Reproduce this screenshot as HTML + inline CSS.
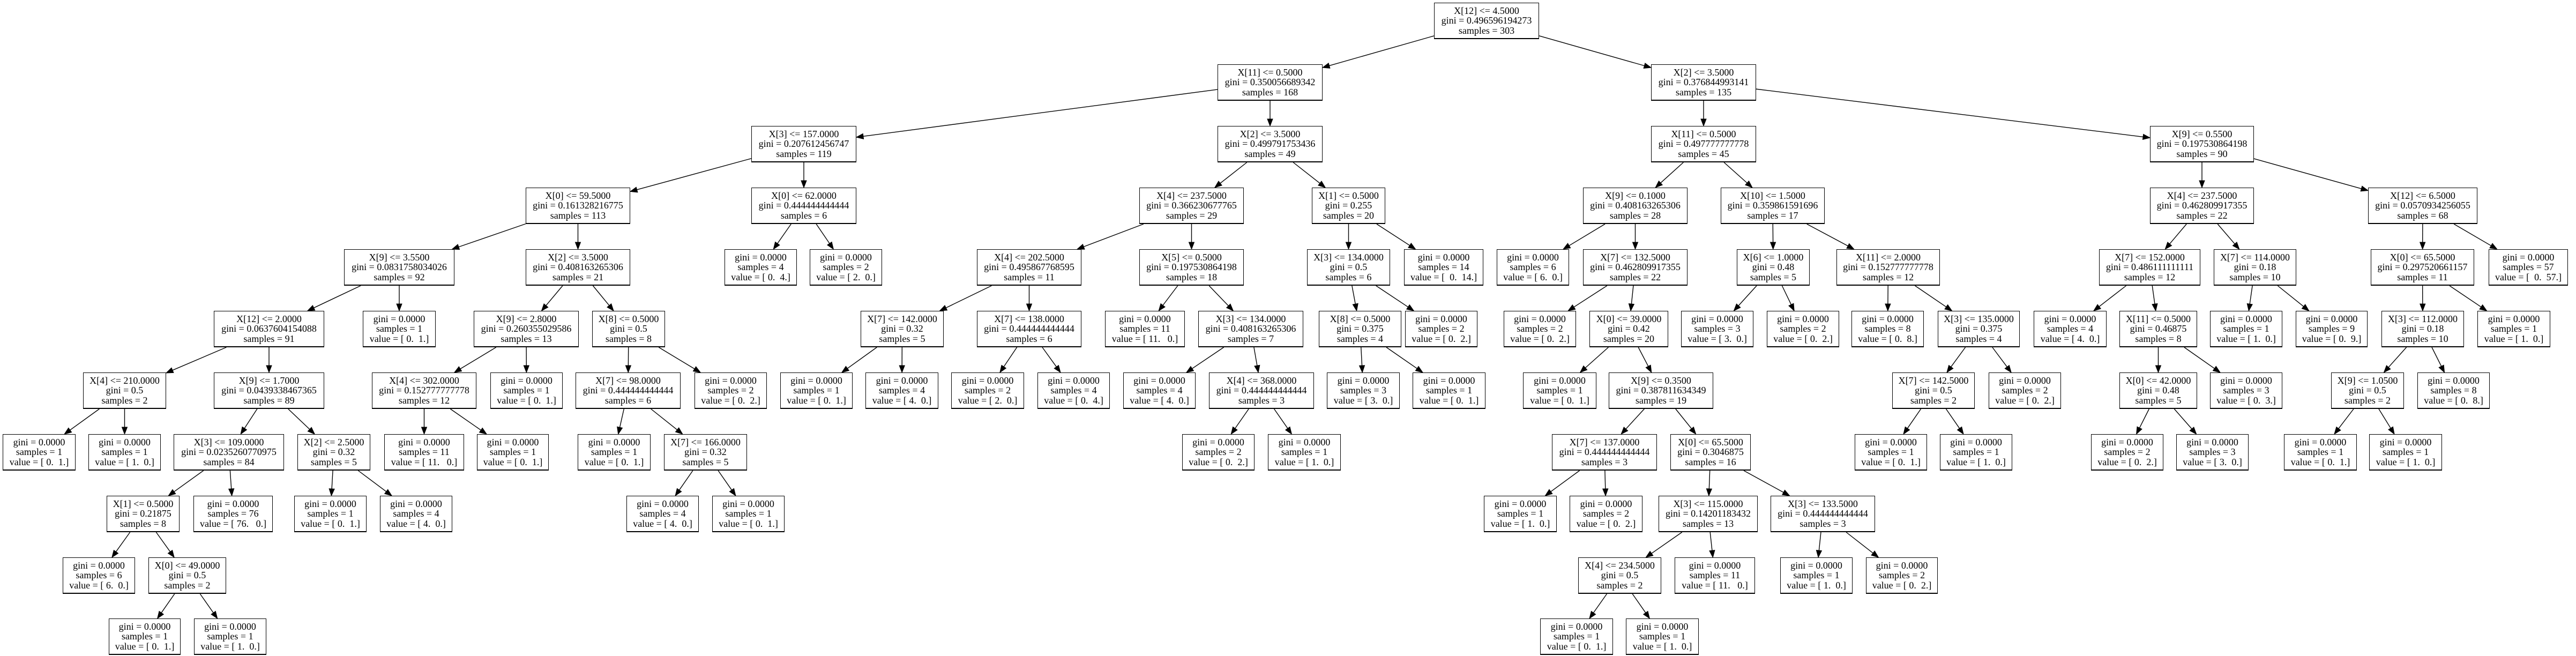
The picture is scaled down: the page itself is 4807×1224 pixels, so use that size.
<!DOCTYPE html>
<html><head><meta charset="utf-8">
<style>
html,body{margin:0;padding:0;background:#fff;}
#c{position:relative;width:4807px;height:1224px;overflow:hidden;background:#fff;}
.n{position:absolute;height:68px;box-sizing:border-box;border:1.3px solid #000;border-bottom-width:2px;background:#fff;
display:flex;flex-direction:column;justify-content:center;align-items:center;text-align:center;
font-family:"Liberation Serif","Times New Roman",serif;font-size:18px;line-height:18.6px;color:#000;white-space:pre;z-index:2;}
svg{position:absolute;left:0;top:0;z-index:1;}
</style></head><body><div id="c">
<svg id="s" width="4807" height="1224"></svg>
<div class="n" id="n0" style="left:2676px;top:5px;width:196px">X[12] &lt;= 4.5000<br>gini = 0.496596194273<br>samples = 303</div>
<div class="n" id="n1" style="left:2272px;top:120px;width:196px">X[11] &lt;= 0.5000<br>gini = 0.350056689342<br>samples = 168</div>
<div class="n" id="n2" style="left:3081px;top:120px;width:196px">X[2] &lt;= 3.5000<br>gini = 0.376844993141<br>samples = 135</div>
<div class="n" id="n3" style="left:1402px;top:235px;width:196px">X[3] &lt;= 157.0000<br>gini = 0.207612456747<br>samples = 119</div>
<div class="n" id="n4" style="left:2272px;top:235px;width:196px">X[2] &lt;= 3.5000<br>gini = 0.499791753436<br>samples = 49</div>
<div class="n" id="n31" style="left:3081px;top:235px;width:196px">X[11] &lt;= 0.5000<br>gini = 0.497777777778<br>samples = 45</div>
<div class="n" id="n32" style="left:4012px;top:235px;width:194px">X[9] &lt;= 0.5500<br>gini = 0.197530864198<br>samples = 90</div>
<div class="n" id="n5" style="left:981px;top:350px;width:195px">X[0] &lt;= 59.5000<br>gini = 0.161328216775<br>samples = 113</div>
<div class="n" id="n6" style="left:1402px;top:350px;width:196px">X[0] &lt;= 62.0000<br>gini = 0.444444444444<br>samples = 6</div>
<div class="n" id="n21" style="left:2126px;top:350px;width:195px">X[4] &lt;= 237.5000<br>gini = 0.366230677765<br>samples = 29</div>
<div class="n" id="n22" style="left:2448px;top:350px;width:137px">X[1] &lt;= 0.5000<br>gini = 0.255<br>samples = 20</div>
<div class="n" id="n33" style="left:2954px;top:350px;width:195px">X[9] &lt;= 0.1000<br>gini = 0.408163265306<br>samples = 28</div>
<div class="n" id="n34" style="left:3211px;top:350px;width:194px">X[10] &lt;= 1.5000<br>gini = 0.359861591696<br>samples = 17</div>
<div class="n" id="n47" style="left:4012px;top:350px;width:194px">X[4] &lt;= 237.5000<br>gini = 0.462809917355<br>samples = 22</div>
<div class="n" id="n48" style="left:4419px;top:350px;width:204px">X[12] &lt;= 6.5000<br>gini = 0.0570934256055<br>samples = 68</div>
<div class="n" id="n7" style="left:642px;top:465px;width:206px">X[9] &lt;= 3.5500<br>gini = 0.0831758034026<br>samples = 92</div>
<div class="n" id="n8" style="left:981px;top:465px;width:195px">X[2] &lt;= 3.5000<br>gini = 0.408163265306<br>samples = 21</div>
<div class="n" id="l6a" style="left:1352px;top:465px;width:135px">gini = 0.0000<br>samples = 4<br>value = [ 0.  4.]</div>
<div class="n" id="l6b" style="left:1511px;top:465px;width:135px">gini = 0.0000<br>samples = 2<br>value = [ 2.  0.]</div>
<div class="n" id="n23" style="left:1823px;top:465px;width:195px">X[4] &lt;= 202.5000<br>gini = 0.495867768595<br>samples = 11</div>
<div class="n" id="n24" style="left:2126px;top:465px;width:195px">X[5] &lt;= 0.5000<br>gini = 0.197530864198<br>samples = 18</div>
<div class="n" id="n25" style="left:2439px;top:465px;width:155px">X[3] &lt;= 134.0000<br>gini = 0.5<br>samples = 6</div>
<div class="n" id="l22b" style="left:2620px;top:465px;width:148px">gini = 0.0000<br>samples = 14<br>value = [  0.  14.]</div>
<div class="n" id="l33a" style="left:2793px;top:465px;width:135px">gini = 0.0000<br>samples = 6<br>value = [ 6.  0.]</div>
<div class="n" id="n35" style="left:2954px;top:465px;width:195px">X[7] &lt;= 132.5000<br>gini = 0.462809917355<br>samples = 22</div>
<div class="n" id="n36" style="left:3241px;top:465px;width:136px">X[6] &lt;= 1.0000<br>gini = 0.48<br>samples = 5</div>
<div class="n" id="n37" style="left:3427px;top:465px;width:193px">X[11] &lt;= 2.0000<br>gini = 0.152777777778<br>samples = 12</div>
<div class="n" id="n49" style="left:3917px;top:465px;width:189px">X[7] &lt;= 152.0000<br>gini = 0.486111111111<br>samples = 12</div>
<div class="n" id="n50" style="left:4131px;top:465px;width:154px">X[7] &lt;= 114.0000<br>gini = 0.18<br>samples = 10</div>
<div class="n" id="n51" style="left:4424px;top:465px;width:193px">X[0] &lt;= 65.5000<br>gini = 0.297520661157<br>samples = 11</div>
<div class="n" id="l48b" style="left:4644px;top:465px;width:148px">gini = 0.0000<br>samples = 57<br>value = [  0.  57.]</div>
<div class="n" id="n9" style="left:399px;top:580px;width:206px">X[12] &lt;= 2.0000<br>gini = 0.0637604154088<br>samples = 91</div>
<div class="n" id="l7b" style="left:677px;top:580px;width:136px">gini = 0.0000<br>samples = 1<br>value = [ 0.  1.]</div>
<div class="n" id="n10" style="left:884px;top:580px;width:196px">X[9] &lt;= 2.8000<br>gini = 0.260355029586<br>samples = 13</div>
<div class="n" id="n11" style="left:1105px;top:580px;width:136px">X[8] &lt;= 0.5000<br>gini = 0.5<br>samples = 8</div>
<div class="n" id="n26" style="left:1606px;top:580px;width:155px">X[7] &lt;= 142.0000<br>gini = 0.32<br>samples = 5</div>
<div class="n" id="n27" style="left:1823px;top:580px;width:195px">X[7] &lt;= 138.0000<br>gini = 0.444444444444<br>samples = 6</div>
<div class="n" id="l24a" style="left:2062px;top:580px;width:149px">gini = 0.0000<br>samples = 11<br>value = [ 11.   0.]</div>
<div class="n" id="n28" style="left:2236px;top:580px;width:196px">X[3] &lt;= 134.0000<br>gini = 0.408163265306<br>samples = 7</div>
<div class="n" id="n29" style="left:2461px;top:580px;width:154px">X[8] &lt;= 0.5000<br>gini = 0.375<br>samples = 4</div>
<div class="n" id="l25b" style="left:2622px;top:580px;width:135px">gini = 0.0000<br>samples = 2<br>value = [ 0.  2.]</div>
<div class="n" id="l35a" style="left:2806px;top:580px;width:135px">gini = 0.0000<br>samples = 2<br>value = [ 0.  2.]</div>
<div class="n" id="n38" style="left:2966px;top:580px;width:147px">X[0] &lt;= 39.0000<br>gini = 0.42<br>samples = 20</div>
<div class="n" id="l36a" style="left:3137px;top:580px;width:135px">gini = 0.0000<br>samples = 3<br>value = [ 3.  0.]</div>
<div class="n" id="l36b" style="left:3297px;top:580px;width:135px">gini = 0.0000<br>samples = 2<br>value = [ 0.  2.]</div>
<div class="n" id="l37a" style="left:3455px;top:580px;width:135px">gini = 0.0000<br>samples = 8<br>value = [ 0.  8.]</div>
<div class="n" id="n39" style="left:3616px;top:580px;width:153px">X[3] &lt;= 135.0000<br>gini = 0.375<br>samples = 4</div>
<div class="n" id="l49a" style="left:3795px;top:580px;width:136px">gini = 0.0000<br>samples = 4<br>value = [ 4.  0.]</div>
<div class="n" id="n52" style="left:3955px;top:580px;width:145px">X[11] &lt;= 0.5000<br>gini = 0.46875<br>samples = 8</div>
<div class="n" id="l50a" style="left:4124px;top:580px;width:135px">gini = 0.0000<br>samples = 1<br>value = [ 1.  0.]</div>
<div class="n" id="l50b" style="left:4284px;top:580px;width:134px">gini = 0.0000<br>samples = 9<br>value = [ 0.  9.]</div>
<div class="n" id="n53" style="left:4444px;top:580px;width:154px">X[3] &lt;= 112.0000<br>gini = 0.18<br>samples = 10</div>
<div class="n" id="l51b" style="left:4623px;top:580px;width:136px">gini = 0.0000<br>samples = 1<br>value = [ 1.  0.]</div>
<div class="n" id="n12" style="left:155px;top:695px;width:155px">X[4] &lt;= 210.0000<br>gini = 0.5<br>samples = 2</div>
<div class="n" id="n13" style="left:399px;top:695px;width:206px">X[9] &lt;= 1.7000<br>gini = 0.0439338467365<br>samples = 89</div>
<div class="n" id="n14" style="left:694px;top:695px;width:195px">X[4] &lt;= 302.0000<br>gini = 0.152777777778<br>samples = 12</div>
<div class="n" id="l10b" style="left:915px;top:695px;width:135px">gini = 0.0000<br>samples = 1<br>value = [ 0.  1.]</div>
<div class="n" id="n15" style="left:1074px;top:695px;width:196px">X[7] &lt;= 98.0000<br>gini = 0.444444444444<br>samples = 6</div>
<div class="n" id="l11b" style="left:1296px;top:695px;width:135px">gini = 0.0000<br>samples = 2<br>value = [ 0.  2.]</div>
<div class="n" id="l26a" style="left:1456px;top:695px;width:135px">gini = 0.0000<br>samples = 1<br>value = [ 0.  1.]</div>
<div class="n" id="l26b" style="left:1615px;top:695px;width:136px">gini = 0.0000<br>samples = 4<br>value = [ 4.  0.]</div>
<div class="n" id="l27a" style="left:1775px;top:695px;width:136px">gini = 0.0000<br>samples = 2<br>value = [ 2.  0.]</div>
<div class="n" id="l27b" style="left:1936px;top:695px;width:135px">gini = 0.0000<br>samples = 4<br>value = [ 0.  4.]</div>
<div class="n" id="l28a" style="left:2096px;top:695px;width:135px">gini = 0.0000<br>samples = 4<br>value = [ 4.  0.]</div>
<div class="n" id="n30" style="left:2256px;top:695px;width:196px">X[4] &lt;= 368.0000<br>gini = 0.444444444444<br>samples = 3</div>
<div class="n" id="l29a" style="left:2476px;top:695px;width:136px">gini = 0.0000<br>samples = 3<br>value = [ 3.  0.]</div>
<div class="n" id="l29b" style="left:2636px;top:695px;width:136px">gini = 0.0000<br>samples = 1<br>value = [ 0.  1.]</div>
<div class="n" id="l38a" style="left:2842px;top:695px;width:137px">gini = 0.0000<br>samples = 1<br>value = [ 0.  1.]</div>
<div class="n" id="n40" style="left:3002px;top:695px;width:195px">X[9] &lt;= 0.3500<br>gini = 0.387811634349<br>samples = 19</div>
<div class="n" id="n41" style="left:3531px;top:695px;width:154px">X[7] &lt;= 142.5000<br>gini = 0.5<br>samples = 2</div>
<div class="n" id="l39b" style="left:3711px;top:695px;width:135px">gini = 0.0000<br>samples = 2<br>value = [ 0.  2.]</div>
<div class="n" id="n54" style="left:3955px;top:695px;width:145px">X[0] &lt;= 42.0000<br>gini = 0.48<br>samples = 5</div>
<div class="n" id="l52b" style="left:4124px;top:695px;width:135px">gini = 0.0000<br>samples = 3<br>value = [ 0.  3.]</div>
<div class="n" id="n55" style="left:4350px;top:695px;width:136px">X[9] &lt;= 1.0500<br>gini = 0.5<br>samples = 2</div>
<div class="n" id="l53b" style="left:4511px;top:695px;width:135px">gini = 0.0000<br>samples = 8<br>value = [ 0.  8.]</div>
<div class="n" id="l12a" style="left:5px;top:810px;width:136px">gini = 0.0000<br>samples = 1<br>value = [ 0.  1.]</div>
<div class="n" id="l12b" style="left:165px;top:810px;width:135px">gini = 0.0000<br>samples = 1<br>value = [ 1.  0.]</div>
<div class="n" id="n16" style="left:324px;top:810px;width:206px">X[3] &lt;= 109.0000<br>gini = 0.0235260770975<br>samples = 84</div>
<div class="n" id="n17" style="left:555px;top:810px;width:136px">X[2] &lt;= 2.5000<br>gini = 0.32<br>samples = 5</div>
<div class="n" id="l14a" style="left:717px;top:810px;width:149px">gini = 0.0000<br>samples = 11<br>value = [ 11.   0.]</div>
<div class="n" id="l14b" style="left:890px;top:810px;width:134px">gini = 0.0000<br>samples = 1<br>value = [ 0.  1.]</div>
<div class="n" id="l15a" style="left:1078px;top:810px;width:136px">gini = 0.0000<br>samples = 1<br>value = [ 0.  1.]</div>
<div class="n" id="n18" style="left:1239px;top:810px;width:155px">X[7] &lt;= 166.0000<br>gini = 0.32<br>samples = 5</div>
<div class="n" id="l30a" style="left:2206px;top:810px;width:135px">gini = 0.0000<br>samples = 2<br>value = [ 0.  2.]</div>
<div class="n" id="l30b" style="left:2366px;top:810px;width:136px">gini = 0.0000<br>samples = 1<br>value = [ 1.  0.]</div>
<div class="n" id="n42" style="left:2896px;top:810px;width:196px">X[7] &lt;= 137.0000<br>gini = 0.444444444444<br>samples = 3</div>
<div class="n" id="n43" style="left:3117px;top:810px;width:150px">X[0] &lt;= 65.5000<br>gini = 0.3046875<br>samples = 16</div>
<div class="n" id="l41a" style="left:3461px;top:810px;width:135px">gini = 0.0000<br>samples = 1<br>value = [ 0.  1.]</div>
<div class="n" id="l41b" style="left:3620px;top:810px;width:135px">gini = 0.0000<br>samples = 1<br>value = [ 1.  0.]</div>
<div class="n" id="l54a" style="left:3902px;top:810px;width:135px">gini = 0.0000<br>samples = 2<br>value = [ 0.  2.]</div>
<div class="n" id="l54b" style="left:4061px;top:810px;width:135px">gini = 0.0000<br>samples = 3<br>value = [ 3.  0.]</div>
<div class="n" id="l55a" style="left:4262px;top:810px;width:136px">gini = 0.0000<br>samples = 1<br>value = [ 0.  1.]</div>
<div class="n" id="l55b" style="left:4421px;top:810px;width:136px">gini = 0.0000<br>samples = 1<br>value = [ 1.  0.]</div>
<div class="n" id="n19" style="left:199px;top:925px;width:136px">X[1] &lt;= 0.5000<br>gini = 0.21875<br>samples = 8</div>
<div class="n" id="l16b" style="left:361px;top:925px;width:148px">gini = 0.0000<br>samples = 76<br>value = [ 76.   0.]</div>
<div class="n" id="l17a" style="left:549px;top:925px;width:135px">gini = 0.0000<br>samples = 1<br>value = [ 0.  1.]</div>
<div class="n" id="l17b" style="left:709px;top:925px;width:135px">gini = 0.0000<br>samples = 4<br>value = [ 4.  0.]</div>
<div class="n" id="l18a" style="left:1169px;top:925px;width:135px">gini = 0.0000<br>samples = 4<br>value = [ 4.  0.]</div>
<div class="n" id="l18b" style="left:1329px;top:925px;width:135px">gini = 0.0000<br>samples = 1<br>value = [ 0.  1.]</div>
<div class="n" id="l42a" style="left:2769px;top:925px;width:136px">gini = 0.0000<br>samples = 1<br>value = [ 1.  0.]</div>
<div class="n" id="l42b" style="left:2929px;top:925px;width:136px">gini = 0.0000<br>samples = 2<br>value = [ 0.  2.]</div>
<div class="n" id="n44" style="left:3095px;top:925px;width:185px">X[3] &lt;= 115.0000<br>gini = 0.14201183432<br>samples = 13</div>
<div class="n" id="n45" style="left:3304px;top:925px;width:195px">X[3] &lt;= 133.5000<br>gini = 0.444444444444<br>samples = 3</div>
<div class="n" id="l19a" style="left:117px;top:1040px;width:135px">gini = 0.0000<br>samples = 6<br>value = [ 6.  0.]</div>
<div class="n" id="n20" style="left:277px;top:1040px;width:145px">X[0] &lt;= 49.0000<br>gini = 0.5<br>samples = 2</div>
<div class="n" id="n46" style="left:2945px;top:1040px;width:155px">X[4] &lt;= 234.5000<br>gini = 0.5<br>samples = 2</div>
<div class="n" id="l44b" style="left:3125px;top:1040px;width:150px">gini = 0.0000<br>samples = 11<br>value = [ 11.   0.]</div>
<div class="n" id="l45a" style="left:3322px;top:1040px;width:135px">gini = 0.0000<br>samples = 1<br>value = [ 1.  0.]</div>
<div class="n" id="l45b" style="left:3482px;top:1040px;width:134px">gini = 0.0000<br>samples = 2<br>value = [ 0.  2.]</div>
<div class="n" id="l20a" style="left:203px;top:1154px;width:134px">gini = 0.0000<br>samples = 1<br>value = [ 0.  1.]</div>
<div class="n" id="l20b" style="left:362px;top:1154px;width:135px">gini = 0.0000<br>samples = 1<br>value = [ 1.  0.]</div>
<div class="n" id="l46a" style="left:2874px;top:1154px;width:136px">gini = 0.0000<br>samples = 1<br>value = [ 0.  1.]</div>
<div class="n" id="l46b" style="left:3034px;top:1154px;width:136px">gini = 0.0000<br>samples = 1<br>value = [ 1.  0.]</div>
</div>
<script>
(function(){
var E=[["n0","n1"],["n0","n2"],["n1","n3"],["n1","n4"],["n3","n5"],["n3","n6"],["n5","n7"],["n5","n8"],["n6","l6a"],["n6","l6b"],
["n7","n9"],["n7","l7b"],["n8","n10"],["n8","n11"],["n9","n12"],["n9","n13"],["n10","n14"],["n10","l10b"],["n11","n15"],["n11","l11b"],
["n12","l12a"],["n12","l12b"],["n13","n16"],["n13","n17"],["n14","l14a"],["n14","l14b"],["n15","l15a"],["n15","n18"],["n16","n19"],["n16","l16b"],
["n17","l17a"],["n17","l17b"],["n18","l18a"],["n18","l18b"],["n19","l19a"],["n19","n20"],["n20","l20a"],["n20","l20b"],
["n4","n21"],["n4","n22"],["n21","n23"],["n21","n24"],["n22","n25"],["n22","l22b"],["n23","n26"],["n23","n27"],["n24","l24a"],["n24","n28"],
["n25","n29"],["n25","l25b"],["n26","l26a"],["n26","l26b"],["n27","l27a"],["n27","l27b"],["n28","l28a"],["n28","n30"],["n29","l29a"],["n29","l29b"],
["n30","l30a"],["n30","l30b"],["n2","n31"],["n2","n32"],["n31","n33"],["n31","n34"],["n33","l33a"],["n33","n35"],["n34","n36"],["n34","n37"],
["n35","l35a"],["n35","n38"],["n36","l36a"],["n36","l36b"],["n37","l37a"],["n37","n39"],["n38","l38a"],["n38","n40"],["n39","n41"],["n39","l39b"],
["n40","n42"],["n40","n43"],["n41","l41a"],["n41","l41b"],["n42","l42a"],["n42","l42b"],["n43","n44"],["n43","n45"],["n44","n46"],["n44","l44b"],
["n45","l45a"],["n45","l45b"],["n46","l46a"],["n46","l46b"],["n32","n47"],["n32","n48"],["n47","n49"],["n47","n50"],["n48","n51"],["n48","l48b"],
["n49","l49a"],["n49","n52"],["n50","l50a"],["n50","l50b"],["n51","n53"],["n51","l51b"],["n52","n54"],["n52","l52b"],["n53","n55"],["n53","l53b"],
["n54","l54a"],["n54","l54b"],["n55","l55a"],["n55","l55b"]];
var s=document.getElementById("s"),h="";
function b(id){var e=document.getElementById(id);return {cx:e.offsetLeft+e.offsetWidth/2,cy:e.offsetTop+e.offsetHeight/2,hw:e.offsetWidth/2,hh:e.offsetHeight/2};}
function t(B,dx,dy){var a=Math.abs(dx)>1e-6?B.hw/Math.abs(dx):1e9,c=Math.abs(dy)>1e-6?B.hh/Math.abs(dy):1e9;return Math.min(a,c);}
E.forEach(function(p){var A=b(p[0]),C=b(p[1]);var dx=C.cx-A.cx,dy=C.cy-A.cy;var L=Math.sqrt(dx*dx+dy*dy);dx/=L;dy/=L;
var ta=t(A,dx,dy),tc=t(C,dx,dy);var x1=A.cx+dx*ta,y1=A.cy+dy*ta,x2=C.cx-dx*tc,y2=C.cy-dy*tc;
var al=13,aw=5;var bx=x2-dx*al,by=y2-dy*al;var nx=-dy,ny=dx;
h+='<line x1="'+x1+'" y1="'+y1+'" x2="'+bx+'" y2="'+by+'" stroke="#000" stroke-width="1.4"/>';
h+='<polygon points="'+x2+','+y2+' '+(bx+nx*aw)+','+(by+ny*aw)+' '+(bx-nx*aw)+','+(by-ny*aw)+'" fill="#000" stroke="#000" stroke-width="1"/>';});
s.innerHTML=h;})();
</script>
</body></html>
